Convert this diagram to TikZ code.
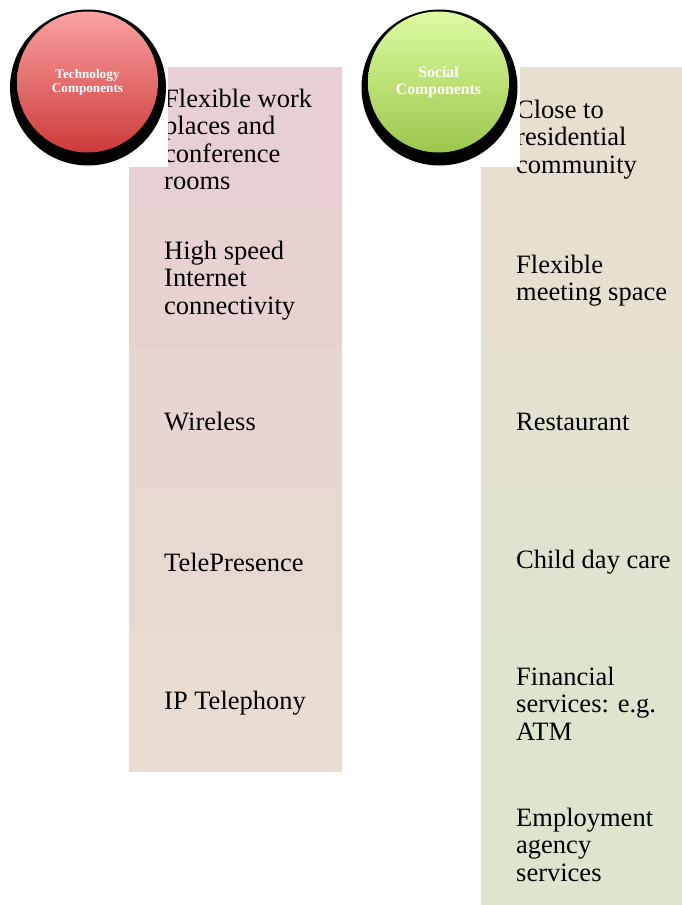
\documentclass[tikz,border=0pt]{standalone}
\usepackage{fontspec}
\setmainfont{Liberation Serif}
\usetikzlibrary{positioning}
\definecolor{TechTop}{HTML}{E8CFD1}
\definecolor{TechBot}{HTML}{E8DDD0}
\definecolor{SocTop}{HTML}{E7DFD0}
\definecolor{SocBot}{HTML}{DCE6CF}
\definecolor{RedLight}{HTML}{FAA2A2}
\definecolor{RedDark}{HTML}{CD3A3A}
\definecolor{GreenLight}{HTML}{DEFCA2}
\definecolor{GreenDark}{HTML}{9BC64C}

\begin{document}
\begin{tikzpicture}[x=1pt, y=-1pt,
            row/.style={anchor=north west, minimum width=213pt, minimum height=141pt, inner sep=0pt, outer sep=0pt},
            socrow/.style={row, minimum width=201pt},
            item/.style={align=left, inner sep=0pt, yshift=-2pt, font=\fontsize{26.5}{27.5}\selectfont},
            shadowdisc/.style={circle, fill=black, minimum size=156pt, inner sep=0pt},
            badge/.style={circle, minimum size=141pt, inner sep=0pt, align=center, text=white}
        ]
            \useasboundingbox (0,0) rectangle (682,905);

            % Technology column (top to bottom)
            \node[row, fill=TechTop] (tech1) at (129,67) {};
            \node[row, fill=TechTop!75!TechBot] (tech2) at (129,208) {};
            \node[row, fill=TechTop!50!TechBot] (tech3) at (129,349) {};
            \node[row, fill=TechTop!25!TechBot] (tech4) at (129,490) {};
            \node[row, fill=TechBot] (tech5) at (129,631) {};

            \node[item, right=35pt of tech1.west] (techtxt1) {Flexible work\\places and\\conference\\rooms};
            \node[item, right=35pt of tech2.west] (techtxt2) {High speed\\Internet\\connectivity};
            \node[item, right=35pt of tech3.west] (techtxt3) {Wireless};
            \node[item, right=35pt of tech4.west] (techtxt4) {TelePresence};
            \node[item, right=35pt of tech5.west] (techtxt5) {IP Telephony};

            % Social column (top to bottom)
            \node[socrow, fill=SocTop] (soc1) at (481,67) {};
            \node[socrow, fill=SocTop!80!SocBot] (soc2) at (481,208) {};
            \node[socrow, fill=SocTop!60!SocBot] (soc3) at (481,349) {};
            \node[socrow, fill=SocTop!40!SocBot] (soc4) at (481,490) {};
            \node[socrow, fill=SocTop!20!SocBot] (soc5) at (481,631) {};
            \node[socrow, fill=SocBot, minimum height=133pt] (soc6) at (481,772) {};

            \node[item, right=35pt of soc1.west] (soctxt1) {Close to\\residential\\community};
            \node[item, right=35pt of soc2.west] (soctxt2) {Flexible\\meeting space};
            \node[item, right=35pt of soc3.west] (soctxt3) {Restaurant};
            \node[item, right=35pt of soc4.west] (soctxt4) {Child day care};
            \node[item, right=35pt of soc5.west] (soctxt5) {Financial\\services: e.g.\\ATM};
            \node[item, right=35pt of soc6.north west, yshift=-70.5pt] (soctxt6) {Employment\\agency\\services};

            % White frames behind the headings
            \fill[white] (0,0) rectangle (168,167);
            \fill[white] (350,0) rectangle (520,167);

            % Headings
            \node[shadowdisc] (techshadow) at (88,87.5) {};
            \node[badge, top color=RedLight, bottom color=RedDark,
                  font=\fontsize{13.2}{14}\selectfont\bfseries] (tech) at (87.5,82) {Technology\\Components};
            \node[shadowdisc] (socshadow) at (439.5,87.5) {};
            \node[badge, top color=GreenLight, bottom color=GreenDark,
                  font=\fontsize{15.8}{17}\selectfont\bfseries] (soc) at (438.5,82) {Social\\Components};
        \end{tikzpicture}
\end{document}
